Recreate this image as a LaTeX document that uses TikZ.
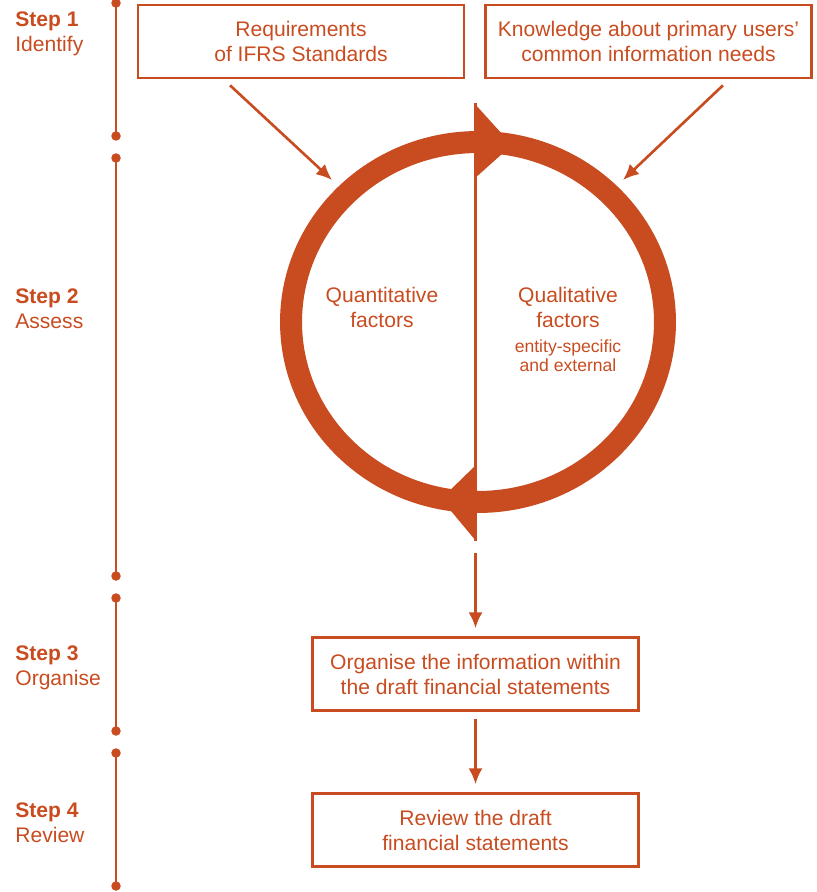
\documentclass[tikz,border=0pt]{standalone}
\usepackage{fontspec}
\setmainfont{Liberation Sans}
\usetikzlibrary{arrows.meta}
\definecolor{ifrs}{RGB}{200,76,32}
\begin{document}
\begin{tikzpicture}[x=0.02cm,y=-0.02cm,>={Latex[length=9pt,width=8pt]},
  every node/.style={text=ifrs,align=center,font=\fontsize{12}{14.2}\selectfont},
  box/.style={draw=ifrs,line width=1.5pt,minimum width=6.52cm,minimum height=1.46cm,inner sep=0pt},
  steplbl/.style={anchor=west,align=left,inner sep=0pt},
  flow/.style={draw=ifrs,line width=1.5pt,->}]
\useasboundingbox (0,0) rectangle (817,892);

% time line
\foreach \a/\b in {3/136,158/576,598/731,753/886}{
  \draw[ifrs,line width=1.6pt] (116,\a) -- (116,\b);
  \fill[ifrs] (116,\a) circle (0.095cm) (116,\b) circle (0.095cm);
}
\node(S1)[steplbl] at (15,34){\textbf{Step 1}\\Identify};
\node(S2)[steplbl] at (15,309){\textbf{Step 2}\\Assess};
\node(S3)[steplbl] at (15,668){\textbf{Step 3}\\Organise};
\node(S4)[steplbl] at (15,823){\textbf{Step 4}\\Review};

\node(Req)[box] at (301,41.5){Requirements\\of IFRS Standards};
\node(Know)[box] at (648.5,41.5){Knowledge about primary users'\\common information needs};
\node(Org)[box] at (475.5,674){Organise the information within\\the draft financial statements};
\node(Rev)[box] at (475.5,830){Review the draft\\financial statements};

% cycle
\coordinate(C) at (478,322);
\draw[ifrs,line width=0.44cm] (C) ellipse [x radius=3.74cm,y radius=3.6cm];
\fill[ifrs] (474,103) -- (474,179) -- (512,145) -- cycle;
\fill[ifrs] (476,465) -- (476,541) -- (441,499) -- cycle;
\coordinate(Top) at (475.5,103);
\coordinate(Bot) at (475.5,541);
\draw[ifrs,line width=1.5pt] (Top) -- (Bot);

\node(Quant) at (382,307){Quantitative\\factors};
\node(Qual) at (568,307){Qualitative\\factors};
\node(QualSub)[font=\fontsize{10}{10.8}\selectfont] at (568,356){entity-specific\\and external};

\coordinate(inL) at (332,180);
\coordinate(inR) at (623,180);
\draw[flow] ([xshift=-1.42cm,yshift=-0.12cm]Req.south) -- (inL);
\draw[flow] ([xshift=1.49cm,yshift=-0.12cm]Know.south) -- (inR);
\draw[flow,shorten <=0.24cm,shorten >=0.16cm] (Bot) -- (Org.north);
\draw[flow,shorten <=0.14cm,shorten >=0.16cm] (Org.south) -- (Rev.north);
\end{tikzpicture}
\end{document}
